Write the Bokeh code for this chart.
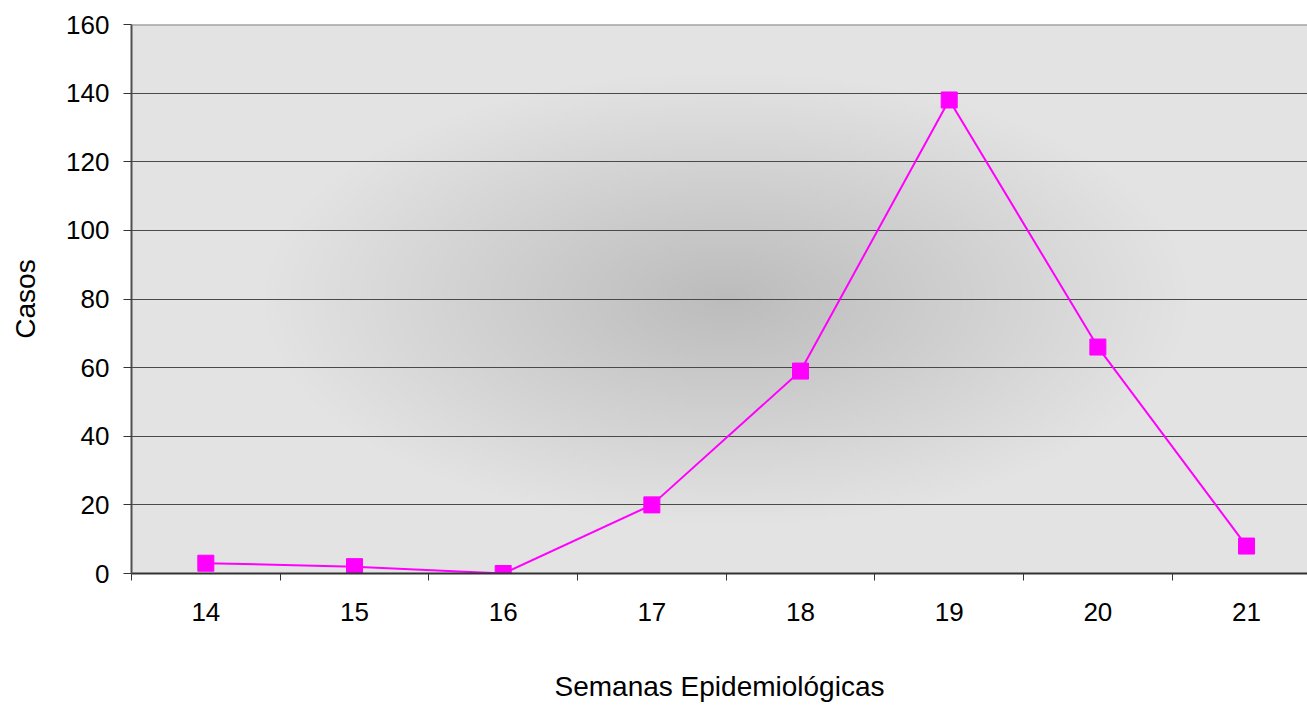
import numpy as np
from bokeh.plotting import figure
from bokeh.models import FixedTicker, Range1d, Span
from bokeh.embed import file_html
from bokeh.resources import INLINE

# ---- data ----
weeks = [14, 15, 16, 17, 18, 19, 20, 21]
cases = [3, 2, 0, 20, 59, 138, 66, 8]
y_ticks = [0, 20, 40, 60, 80, 100, 120, 140, 160]
x_title = "Semanas Epidemiológicas"
y_title = "Casos"

FONT = "Liberation Sans"
X0, X1 = weeks[0] - 0.5, weeks[-1] + 0.41  # plot area is clipped at the right edge

p = figure(width=1307, height=705, output_backend="svg", toolbar_location=None,
           x_range=Range1d(X0, X1), y_range=Range1d(0, 160),
           min_border_left=131, min_border_right=0, min_border_top=24, min_border_bottom=132)
p.outline_line_color = None
p.border_fill_color = "white"
p.background_fill_color = "#e3e3e3"

# background radial gradient (style only), centred on the full (unclipped) plot area
FW, FH = 1176, 549
H, W = 275, 588
yy, xx = np.mgrid[0:H, 0:W]
dx = (xx + 0.5) / W * FW - 595
dy = (yy + 0.5 - H / 2) / H * FH
d = np.sqrt((dx / 460) ** 2 + (dy / 225) ** 2)
g = (188 + (227 - 188) * np.clip(d, 0, 1)).astype(np.uint8)
img = np.empty((H, W), dtype=np.uint32)
view = img.view(dtype=np.uint8).reshape((H, W, 4))
view[..., 0] = g
view[..., 1] = g
view[..., 2] = g
view[..., 3] = 255
p.image_rgba(image=[img], x=X0, y=0, dw=X1 - X0, dh=160, level="image")

# grid
p.xgrid.grid_line_color = None
p.ygrid.grid_line_color = "#4a4a4a"
p.ygrid.grid_line_width = 1
p.add_layout(Span(location=160, dimension="width", line_color="#858585", line_width=2))

# axes
p.xaxis.ticker = FixedTicker(ticks=weeks, minor_ticks=[w - 0.5 for w in weeks])
p.xaxis.major_tick_out = 0
p.xaxis.major_tick_in = 0
p.xaxis.minor_tick_out = 7
p.xaxis.minor_tick_in = 0
p.xaxis.minor_tick_line_color = "#333333"
p.xaxis.axis_line_color = "#333333"
p.xaxis.axis_line_width = 2
p.xaxis.major_label_standoff = 22
p.xaxis.axis_label = x_title
p.xaxis.axis_label_standoff = 47

p.yaxis.ticker = FixedTicker(ticks=y_ticks)
p.yaxis.major_tick_out = 8
p.yaxis.major_tick_in = 0
p.yaxis.major_tick_line_color = "#333333"
p.yaxis.minor_tick_line_color = None
p.yaxis.axis_line_color = "#505050"
p.yaxis.axis_line_width = 2
p.yaxis.major_label_standoff = 14
p.yaxis.axis_label = y_title
p.yaxis.axis_label_standoff = 22

for ax in (p.xaxis[0], p.yaxis[0]):
    ax.major_label_text_font = FONT
    ax.major_label_text_font_size = "26px"
    ax.major_label_text_color = "black"
    ax.axis_label_text_font = FONT
    ax.axis_label_text_font_size = "28px"
    ax.axis_label_text_font_style = "normal"
    ax.axis_label_text_color = "black"

# series
p.line(weeks, cases, line_color="#FF00FF", line_width=2)
p.scatter(weeks, cases, marker="square", size=16, fill_color="#FF00FF", line_color="#FF00FF")

open("out.html", "w").write(file_html(p, INLINE))
